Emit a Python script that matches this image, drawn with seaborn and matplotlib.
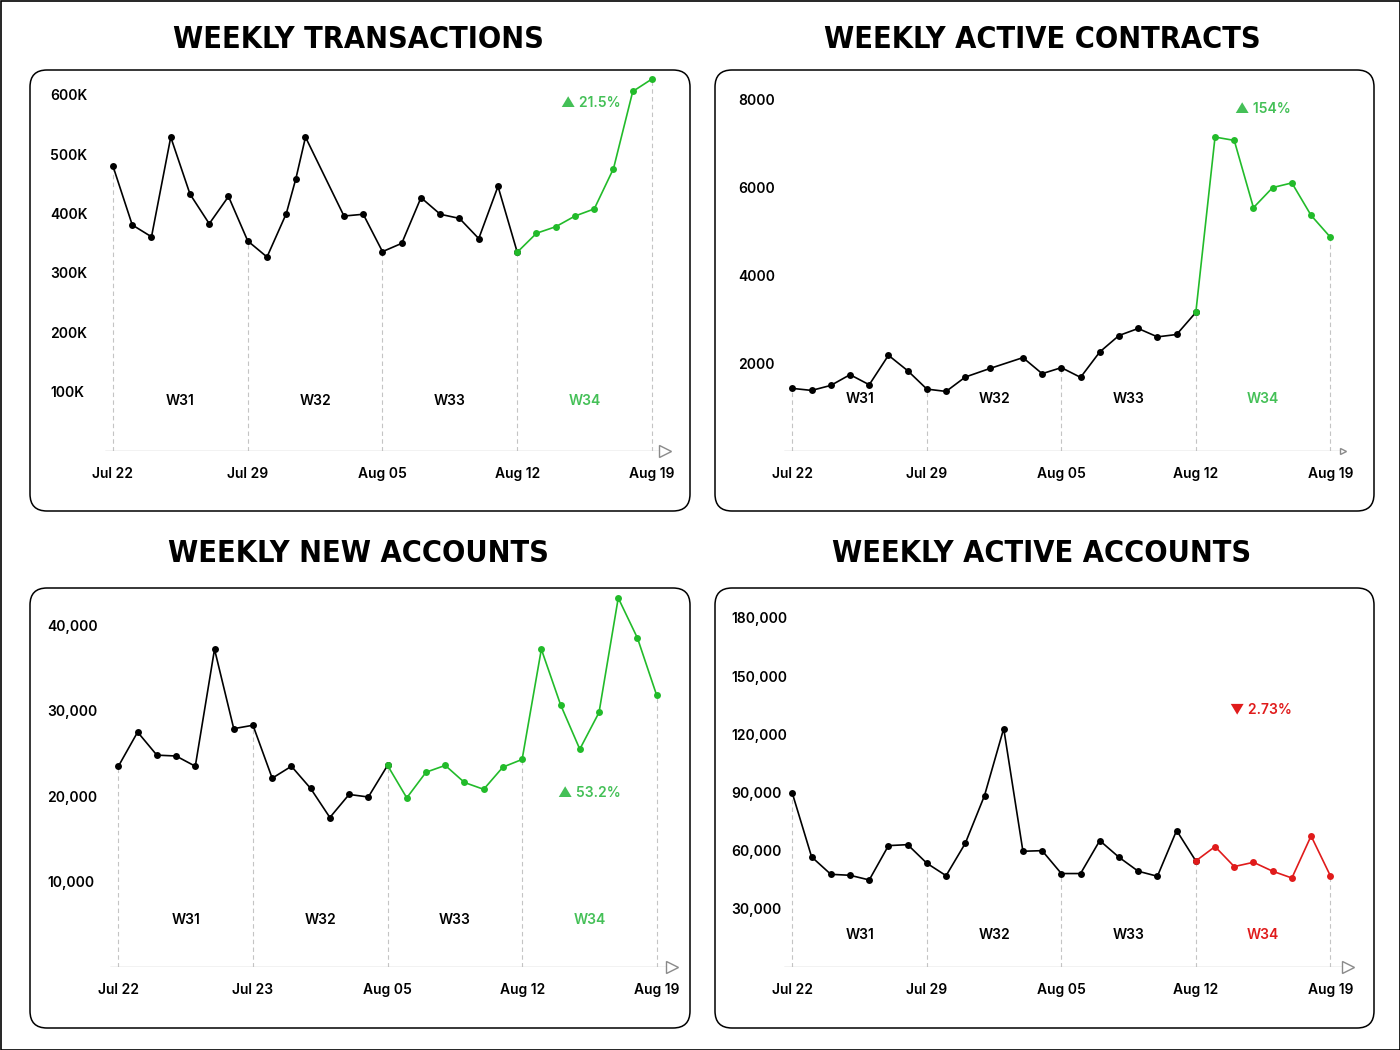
import numpy as np
import pandas as pd
import matplotlib.pyplot as plt
import seaborn as sns
from matplotlib import font_manager
from matplotlib.font_manager import FontProperties
from matplotlib.patches import FancyBboxPatch, Rectangle

sns.set_theme(style='white')
plt.rcParams['font.family'] = ['Inter', 'DejaVu Sans']

start = pd.Timestamp('2024-07-22')

# Weekly transactions (daily points)
tx_days = [0, 1, 2, 3, 4, 5, 6, 7, 8, 9, 9.5, 10, 12, 13, 14, 15, 16, 17, 18, 19, 20,
           21, 22, 23, 24, 25, 26, 27, 28]
tx_vals = [480000, 381000, 361000, 529000, 433000, 383000, 429000, 354000, 327000, 400000,
           459000, 529000, 396000, 399000, 336000, 350000, 427000, 399000, 392000, 358000,
           446000, 335000, 367000, 378000, 396000, 408000, 476000, 606000, 627000]

# Weekly active contracts
ct_days = [0, 1, 2, 3, 4, 5, 6, 7, 8, 9, 10.3, 12, 13, 14, 15, 16, 17, 18, 19, 20,
           21, 22, 23, 24, 25, 26, 27, 28]
ct_vals = [1424, 1378, 1492, 1736, 1507, 2177, 1827, 1408, 1355, 1682, 1880, 2124, 1759,
           1896, 1675, 2253, 2627, 2787, 2596, 2650, 3152, 7141, 7065, 5535, 5992, 6098,
           5360, 4865]

# Weekly new accounts
na_days = list(range(29))
na_vals = [23500, 27500, 24800, 24700, 23500, 37200, 27900, 28300, 22100, 23500, 20900,
           17500, 20200, 19900, 23600, 19800, 22800, 23600, 21600, 20800, 23400, 24300,
           37200, 30700, 25500, 29800, 43200, 38500, 31800]

# Weekly active accounts
aa_days = list(range(29))
aa_vals = [89500, 56800, 47800, 47300, 44900, 62600, 63100, 53500, 47100, 63800, 88400,
           123000, 59700, 60000, 48200, 48200, 65200, 56600, 49400, 46800, 70400, 54700,
           62100, 51800, 54000, 49400, 45900, 67600, 47100]

week_labels = ['W31', 'W32', 'W33', 'W34']
tick_days = [0, 7, 14, 21, 28]
date_labels = ['Jul 22', 'Jul 29', 'Aug 05', 'Aug 12', 'Aug 19']
date_labels_na = ['Jul 22', 'Jul 23', 'Aug 05', 'Aug 12', 'Aug 19']

GREEN = '#22bb2a'
GREEN_TXT = '#44c057'
RED = '#e01b1b'
GRID = '#c4c4c4'

# pick a narrow bold face for the titles if one is installed
title_fp, title_size = FontProperties(family='DejaVu Sans', weight='bold'), 20
fnames = [f.fname for f in font_manager.fontManager.ttflist]
for key, size in [('LiberationSansNarrow-Bold.', 26), ('DejaVuSansCondensed-Bold.', 22)]:
    hits = [fn for fn in fnames if key in fn]
    if hits:
        title_fp, title_size = FontProperties(fname=hits[0]), size
        break

W, H = 1400, 1050
fig = plt.figure(figsize=(14, 10.5), dpi=100)
fig.patch.set_facecolor('white')

# background layer in pixel units
bg = fig.add_axes([0, 0, 1, 1])
bg.set_xlim(0, W)
bg.set_ylim(H, 0)
bg.axis('off')
bg.add_patch(Rectangle((0.5, 0.5), W - 1, H - 1, fill=False, ec='black', lw=1.2))

boxes = [(30, 70, 660, 441), (715, 70, 659, 441), (30, 588, 660, 440), (715, 588, 659, 440)]
for bx, by, bw, bh in boxes:
    bg.add_patch(FancyBboxPatch((bx, by), bw, bh, boxstyle='round,pad=0,rounding_size=17',
                                fc='white', ec='black', lw=1.1))

titles = [('WEEKLY TRANSACTIONS', 358, 39), ('WEEKLY ACTIVE CONTRACTS', 1042, 39),
          ('WEEKLY NEW ACCOUNTS', 358, 554), ('WEEKLY ACTIVE ACCOUNTS', 1042, 554)]
for t, tx, ty in titles:
    bg.text(tx, ty, t, ha='center', va='center', fontproperties=title_fp,
            fontsize=title_size, color='black')

panels = [
    dict(days=tx_days, vals=tx_vals, hi=21, col=GREEN, tcol=GREEN_TXT, labels=date_labels,
         yticks=[100000, 200000, 300000, 400000, 500000, 600000], fmt=lambda v: f'{v // 1000}K',
         ls=105, tip=665, x0=113, x1=652, base=451, top=76, ref=(600000, 95), lab_x=50,
         wy=84000, ann='▲ 21.5%', ann_xy=(24.8, 586000), arrow=9),
    dict(days=ct_days, vals=ct_vals, hi=21, col=GREEN, tcol=GREEN_TXT, labels=date_labels,
         yticks=[2000, 4000, 6000, 8000], fmt=lambda v: f'{v}',
         ls=784, tip=1343, x0=792.4, x1=1330.3, base=451, top=76, ref=(8000, 99.3), lab_x=738,
         wy=1183, ann='▲ 154%', ann_xy=(24.5, 7780), arrow=4),
    dict(days=na_days, vals=na_vals, hi=14, col=GREEN, tcol=GREEN_TXT, labels=date_labels_na,
         yticks=[10000, 20000, 30000, 40000], fmt=lambda v: f'{v:,}',
         ls=110, tip=672, x0=118.4, x1=656.7, base=967, top=594, ref=(40000, 625.3), lab_x=47,
         wy=5500, ann='▲ 53.2%', ann_xy=(24.5, 20350), arrow=9),
    dict(days=aa_days, vals=aa_vals, hi=21, col=RED, tcol=RED, labels=date_labels,
         yticks=[30000, 60000, 90000, 120000, 150000, 180000], fmt=lambda v: f'{v:,}',
         ls=784, tip=1348, x0=792.4, x1=1330.3, base=967, top=594, ref=(180000, 618), lab_x=731,
         wy=16500, ann='▼ 2.73%', ann_xy=(24.4, 133000), arrow=9),
]

for p in panels:
    ax = fig.add_axes([p['ls'] / W, 1 - p['base'] / H, (p['tip'] - p['ls']) / W,
                       (p['base'] - p['top']) / H])
    ax.set_facecolor('none')
    df = pd.DataFrame({'date': start + pd.to_timedelta(p['days'], unit='D'),
                       'day': p['days'], 'value': p['vals']})
    before = df[df['day'] <= p['hi']]
    after = df[df['day'] >= p['hi']]
    sns.lineplot(data=before, x='date', y='value', color='black', marker='o', markersize=5,
                 markeredgewidth=0, linewidth=1.2, ax=ax, clip_on=False, zorder=3)
    sns.lineplot(data=after, x='date', y='value', color=p['col'], marker='o', markersize=5,
                 markeredgewidth=0, linewidth=1.2, ax=ax, clip_on=False, zorder=4)

    # scales
    dpp = 28 / (p['x1'] - p['x0'])
    left = start + pd.Timedelta(days=-(p['x0'] - p['ls']) * dpp)
    right = start + pd.Timedelta(days=28 + (p['tip'] - p['x1']) * dpp)
    ax.set_xlim(left, right)
    upp = p['ref'][0] / (p['base'] - p['ref'][1])
    ax.set_ylim(0, (p['base'] - p['top']) * upp)

    # week separators
    tick_dates = start + pd.to_timedelta(tick_days, unit='D')
    tops = [df.loc[df['day'] == d, 'value'].iloc[0] for d in tick_days]
    ax.vlines(tick_dates, 0, tops, colors=GRID, linestyles=(0, (4, 3)), linewidth=0.8, zorder=1)

    # baseline with open arrow
    ax.axhline(0, color='#bdbdbd', lw=1.0, zorder=2)
    ax.plot([1.0], [0], marker='>', markersize=p['arrow'], mfc='white', mec='#8a8a8a',
            mew=1.0, transform=ax.get_yaxis_transform(), clip_on=False, zorder=5)

    # week labels
    for i, wl in enumerate(week_labels):
        c = p['tcol'] if i == 3 else 'black'
        ax.text(start + pd.Timedelta(days=3.5 + 7 * i), p['wy'], wl, ha='center', va='center',
                fontsize=10, fontweight='semibold', color=c)

    ax.text(start + pd.Timedelta(days=p['ann_xy'][0]), p['ann_xy'][1], p['ann'], ha='center',
            va='center', fontsize=10, fontweight='semibold', color=p['tcol'],
            family=['Inter', 'DejaVu Sans'])

    ax.set_xticks(tick_dates)
    ax.set_xticklabels(p['labels'], fontsize=10, fontweight='semibold')
    ax.set_yticks(p['yticks'])
    ax.set_yticklabels([p['fmt'](v) for v in p['yticks']], fontsize=10, fontweight='semibold')
    ax.tick_params(axis='x', length=0, pad=11.5, colors='black')
    ax.tick_params(axis='y', length=0, pad=(p['ls'] - p['lab_x']) / 1.389, colors='black')
    for lbl in ax.get_yticklabels():
        lbl.set_horizontalalignment('left')
    ax.set_xlabel('')
    ax.set_ylabel('')
    for s in ax.spines.values():
        s.set_visible(False)
    ax.grid(False)

fig.savefig('out.png', dpi=100, facecolor='white')
